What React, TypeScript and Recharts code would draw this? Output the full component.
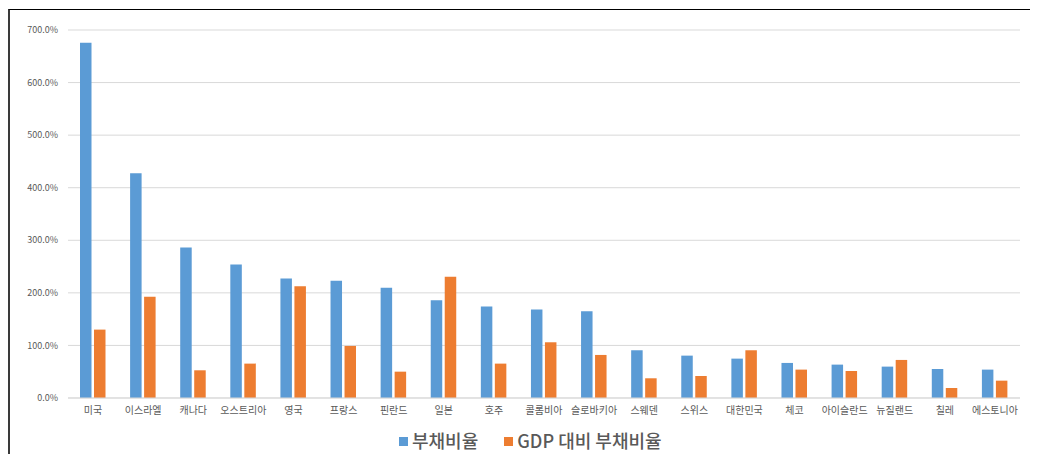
import { BarChart, Bar, XAxis, YAxis, CartesianGrid, Legend } from 'recharts';

const countries = [
  '미국', '이스라엘', '캐나다', '오스트리아', '영국', '프랑스', '핀란드', '일본', '호주', '콜롬비아',
  '슬로바키아', '스웨덴', '스위스', '대한민국', '체코', '아이슬란드', '뉴질랜드', '칠레', '에스토니아',
];

// 부채비율 (%)
const debtRatio = [
  675.6, 427.3, 286.3, 254.0, 227.3, 222.9, 209.5, 186.0, 174.0, 168.2,
  165.1, 90.8, 80.6, 74.9, 66.7, 63.5, 59.7, 55.2, 54.0,
];

// GDP 대비 부채비율 (%)
const gdpDebtRatio = [
  130.1, 192.4, 52.7, 65.4, 212.7, 99.0, 50.1, 230.5, 65.4, 106.0,
  81.9, 37.5, 41.9, 90.8, 54.0, 51.4, 72.4, 19.0, 33.0,
];

const yTicks = [0, 100, 200, 300, 400, 500, 600, 700];
const seriesOrder = ['debt', 'gdpDebt'];

const data = countries.map((name, i) => ({
  name,
  debt: debtRatio[i],
  gdpDebt: gdpDebtRatio[i],
}));

const FONT = '"Noto Sans CJK KR", "Noto Sans", sans-serif';
const TEXT_COLOR = '#595959';

const LegendContent = (props: any) => {
  const { payload = [] } = props;
  const items = seriesOrder
    .map((key) => payload.find((p: any) => p.dataKey === key))
    .filter(Boolean);
  return (
    <div style={{ display: 'flex', alignItems: 'center', height: 24, paddingLeft: 389, fontFamily: FONT }}>
      {items.map((entry: any, i: number) => (
        <div key={entry.value} style={{ display: 'flex', alignItems: 'center', marginLeft: i === 0 ? 0 : 26 }}>
          <span style={{ width: 9, height: 9, background: entry.color, display: 'inline-block', marginRight: 4, marginTop: 2 }} />
          <span style={{ fontSize: 18, fontWeight: 500, color: TEXT_COLOR, lineHeight: '24px' }}>{entry.value}</span>
        </div>
      ))}
    </div>
  );
};

export default function App() {
  return (
    <div style={{ position: 'relative', top: 1 }}>
      <div
        style={{
          width: 1028,
          height: 445,
          borderTop: '1px solid #000',
          borderLeft: '2px solid #3a3a3a',
          background: '#fff',
        }}
      >
        <BarChart
          width={1028}
          height={444}
          data={data}
          margin={{ top: 20, right: 18, left: 0, bottom: 2 }}
          barSize={11.5}
          barGap={2.5}
        >
          <CartesianGrid vertical={false} stroke="#d9d9d9" />
          <XAxis
            dataKey="name"
            interval={0}
            height={30}
            tickSize={0}
            tickMargin={9}
            axisLine={{ stroke: '#d9d9d9' }}
            tick={{ fontSize: 10, fill: TEXT_COLOR, fontFamily: FONT }}
          />
          <YAxis
            width={58}
            domain={[0, 700]}
            ticks={yTicks}
            axisLine={false}
            tickLine={false}
            tickSize={0}
            tickMargin={10}
            tickFormatter={(v: number) => `${v.toFixed(1)}%`}
            tick={{ fontSize: 9, fill: TEXT_COLOR, fontFamily: FONT }}
          />
          <Legend verticalAlign="bottom" content={LegendContent} wrapperStyle={{ left: 0, width: 1028 }} />
          <Bar dataKey="debt" name="부채비율" fill="#5b9bd5" isAnimationActive={false} />
          <Bar dataKey="gdpDebt" name="GDP 대비 부채비율" fill="#ed7d31" isAnimationActive={false} />
        </BarChart>
      </div>
    </div>
  );
}
